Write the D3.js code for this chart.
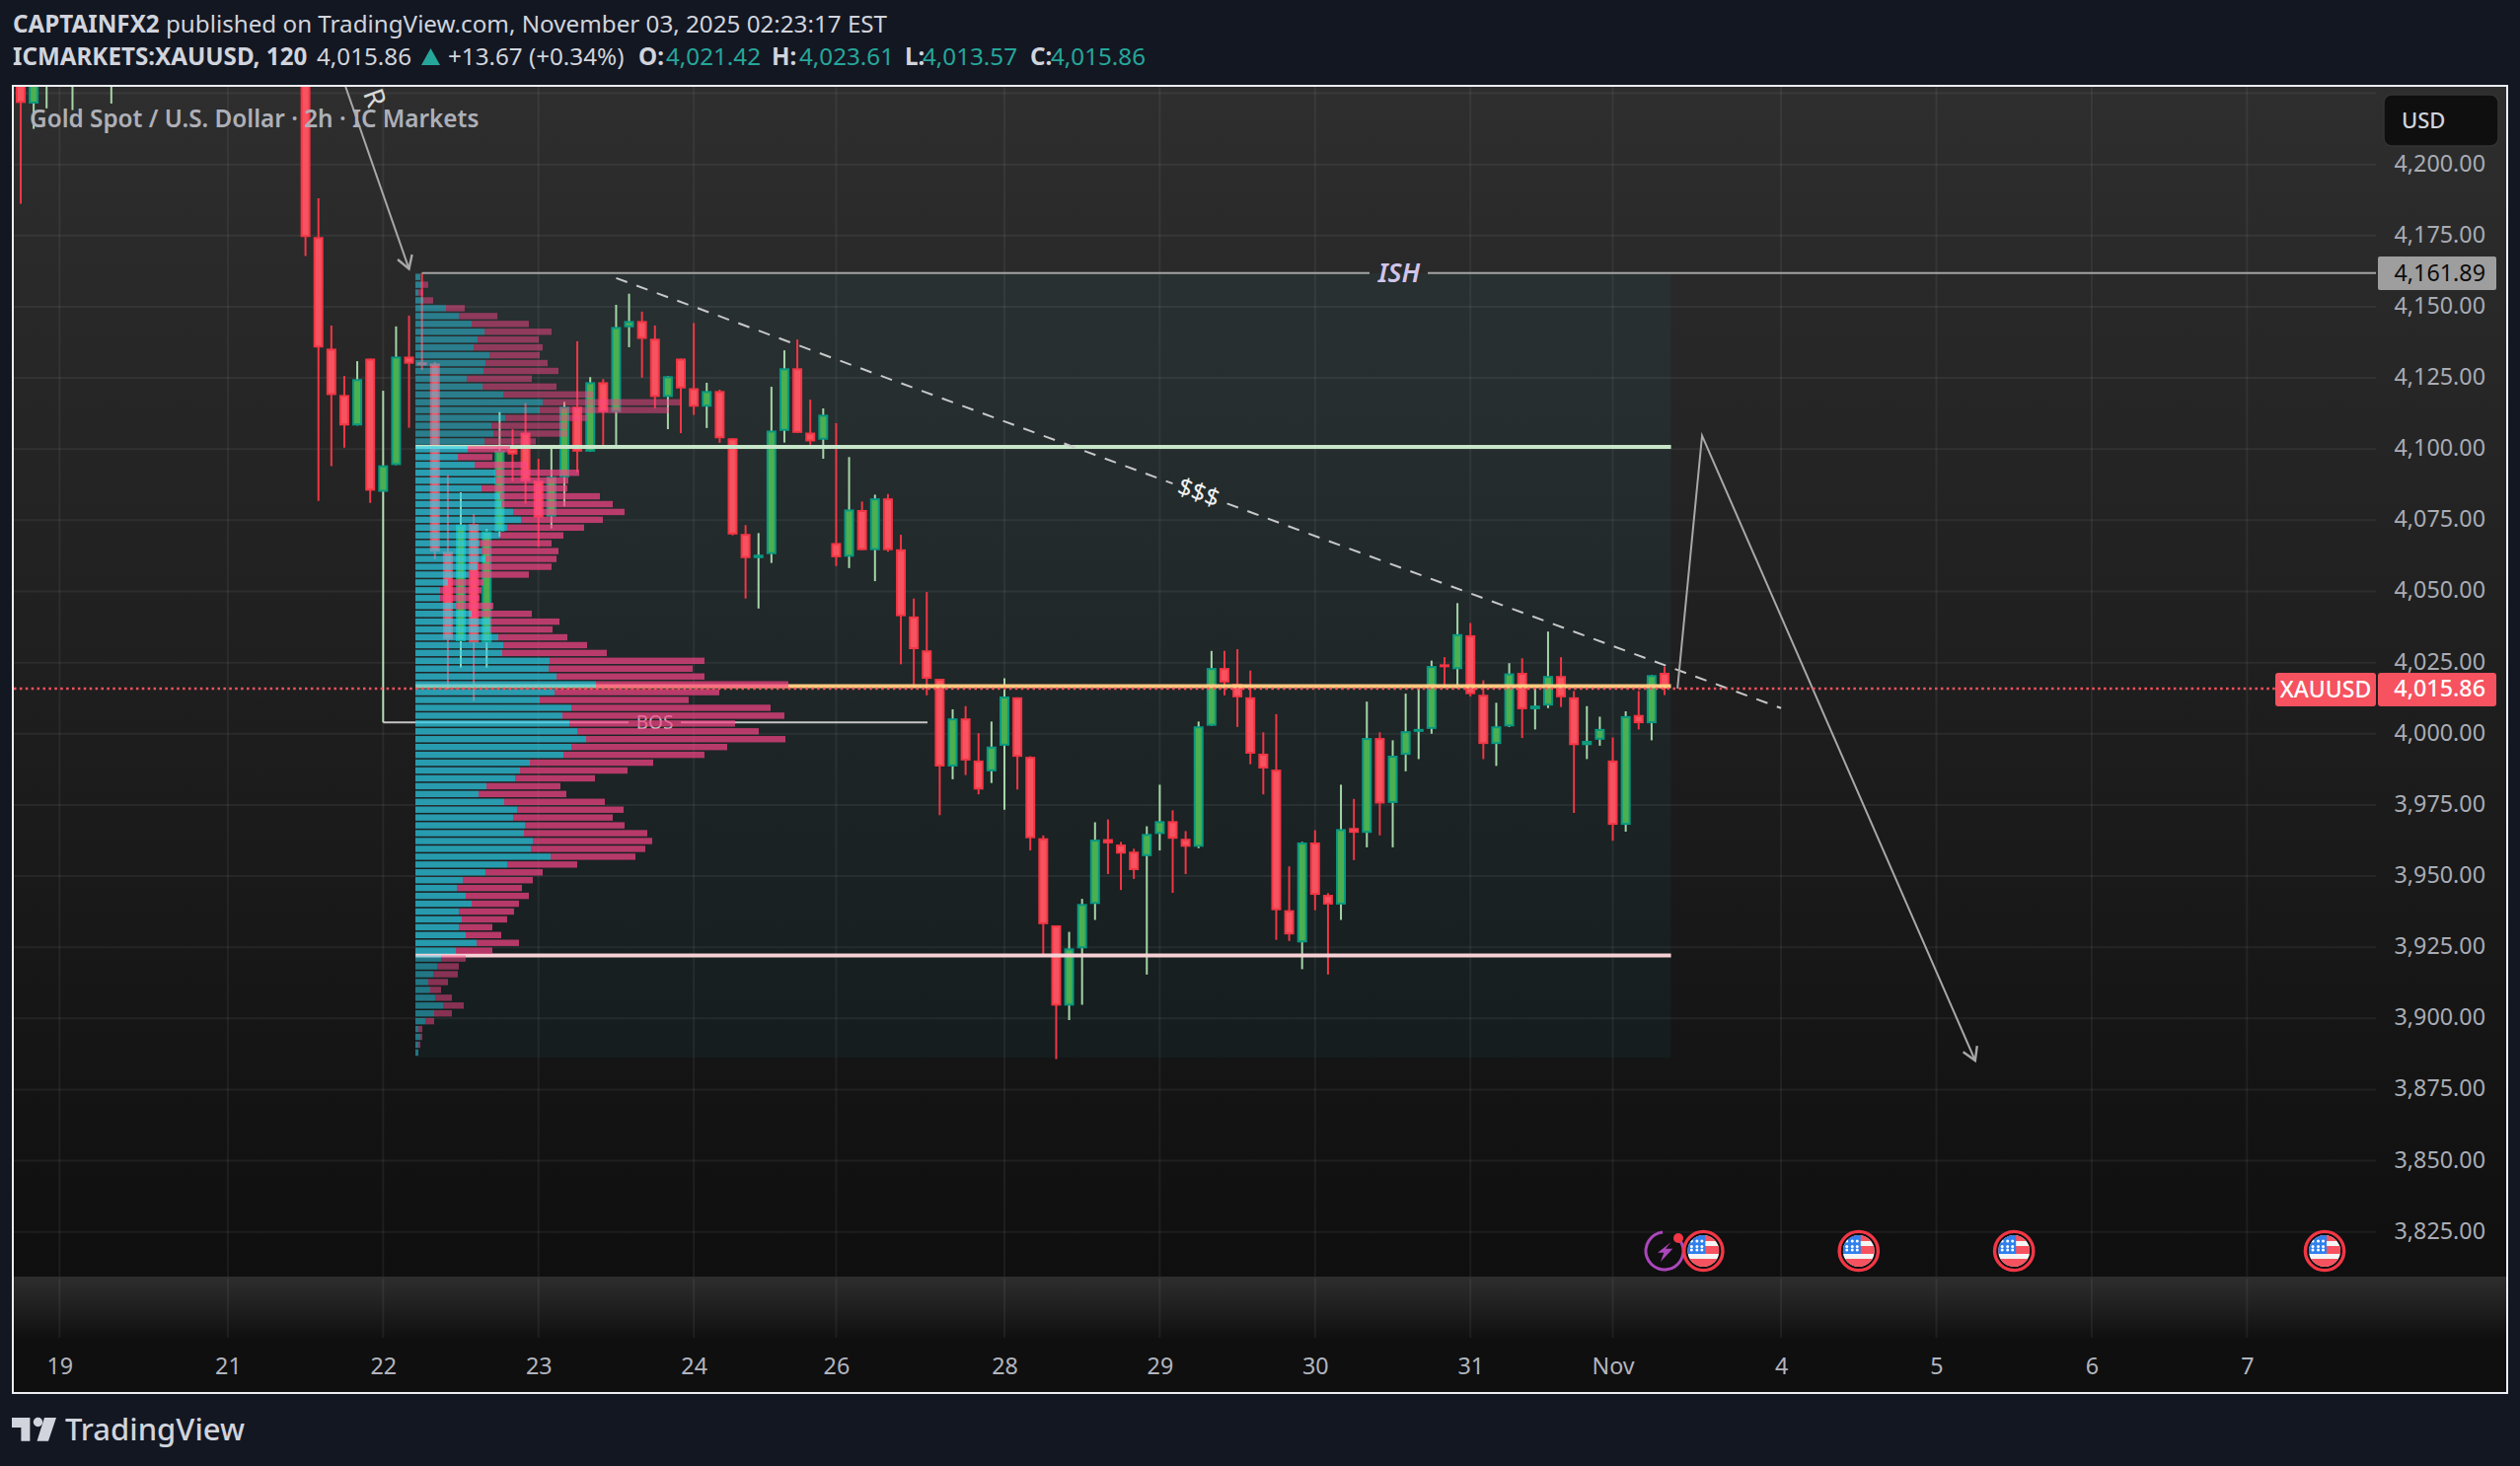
<!DOCTYPE html>
<html>
<head>
<meta charset="utf-8">
<script src="https://cdn.jsdelivr.net/npm/d3@7/dist/d3.min.js"></script>
<style>
  html, body { margin: 0; padding: 0; background: #131722; overflow: hidden; }
  text { font-family: "Noto Sans", sans-serif; }
</style>
</head>
<body>
<svg id="chart" width="2554" height="1486"></svg>
<script>
// bar slots: the bars between slot 8 and 21 sit above the visible range
const slots = [0, 1, 2, 4, 7].concat(d3.range(22, 128));

const opens = [4240, 4221.4, 4235, 4235, 4235,
  4260, 4174.5, 4135.3, 4119.0, 4108.3, 4131.8, 4085.0, 4094.4, 4132.5, 4130.5,
  4130.1, 4064.0, 4032.5, 4073.7, 4032.1, 4071.0, 4100.1, 4105.8, 4088.9, 4076.3,
  4090.1, 4114.9, 4099.1, 4123.5, 4113.0, 4142.8, 4145.0, 4138.8, 4118.3, 4131.8,
  4121.4, 4114.9, 4120.4, 4103.8, 4070.2, 4061.7, 4063.1, 4106.4, 4128.4, 4105.8,
  4103.3, 4067.0, 4062.2,
  4078.6, 4064.5, 4082.7, 4064.8, 4041.2, 4029.3, 4019.3, 3988.5, 4005.4, 3990.6,
  3986.8, 3995.8, 4012.8, 3991.9, 3963.3, 3932.7, 3904.5, 3924.6, 3940.2, 3963.0,
  3961.1, 3958.6, 3957.0, 3964.8, 3969.3, 3963.1, 3960.3, 4002.8, 4023.1, 4017.6,
  4012.8, 3993.0, 3987.4, 3938.0, 3926.7, 3961.8, 3943.4, 3940.0, 3966.9, 3965.2,
  3998.5, 3975.7, 3992.6, 4000.9, 4001.7, 4024.4, 4022.7, 4034.6, 4013.7, 3996.4,
  4002.6, 4021.4, 4008.6, 4009.9, 4020.3, 4012.8, 3996.0, 3997.9, 3990.6, 3968.0,
  4006.6, 4003.7, 4021.42];

const highs = [4240, 4240, 4245, 4245, 4245,
  4270, 4188.1, 4143.4, 4125.7, 4130.9, 4131.8, 4120.5, 4143.1, 4146.9, 4161.89,
  4130.6, 4090.8, 4084.8, 4077.2, 4072.0, 4113.0, 4107.0, 4116.2, 4096.6, 4100.6,
  4116.6, 4137.9, 4125.3, 4124.6, 4150.7, 4154.6, 4148.3, 4143.4, 4125.6, 4131.8,
  4144.3, 4123.3, 4120.9, 4103.9, 4073.3, 4070.5, 4121.9, 4134.7, 4138.5, 4117.4,
  4114.3, 4109.1, 4097.2,
  4081.6, 4084.0, 4084.2, 4069.9, 4047.5, 4049.8, 4019.3, 4008.6, 4009.7, 4000.2,
  4004.3, 4019.5, 4012.8, 3992.1, 3964.3, 3932.7, 3930.4, 3942.0, 3968.9, 3969.9,
  3962.0, 3959.6, 3967.5, 3982.1, 3973.1, 3965.8, 4004.3, 4029.1, 4029.1, 4029.7,
  4022.2, 4000.5, 4006.9, 3953.4, 3962.0, 3966.1, 3944.0, 3982.1, 3977.1, 4011.3,
  4000.5, 3997.7, 4014.1, 4016.0, 4025.7, 4026.9, 4045.9, 4038.9, 4018.8, 4010.9,
  4024.8, 4026.5, 4016.0, 4035.9, 4026.9, 4015.0, 4009.7, 4006.0, 3998.7, 4007.9,
  4015.0, 4020.6, 4023.61];

const lows = [4186.2, 4212.5, 4219.7, 4219.1, 4221.4,
  4167.8, 4081.8, 4094.0, 4100.5, 4108.3, 4081.1, 4085.0, 4094.4, 4107.5, 4127.8,
  4061.4, 4015.7, 4023.2, 4011.5, 4023.2, 4069.2, 4088.7, 4080.8, 4065.6, 4072.1,
  4079.9, 4091.8, 4099.1, 4101.2, 4101.2, 4135.8, 4125.1, 4114.4, 4107.0, 4105.6,
  4112.0, 4107.4, 4102.2, 4069.7, 4047.5, 4044.0, 4060.0, 4102.3, 4105.7, 4101.5,
  4096.6, 4058.9, 4058.2,
  4064.5, 4053.6, 4063.9, 4024.4, 4016.9, 4013.5, 3971.4, 3984.0, 3985.5, 3978.7,
  3982.7, 3973.3, 3980.4, 3959.0, 3922.5, 3885.7, 3899.4, 3904.8, 3934.6, 3950.7,
  3945.1, 3949.0, 3915.4, 3959.0, 3944.1, 3950.7, 3959.8, 4002.8, 4013.5, 4002.4,
  3989.3, 3978.7, 3927.6, 3927.2, 3917.3, 3938.0, 3915.4, 3934.6, 3955.6, 3960.1,
  3964.3, 3960.1, 3986.8, 3991.1, 4000.0, 4016.9, 4016.0, 4013.1, 3991.1, 3988.7,
  4002.4, 3998.5, 4001.5, 4009.0, 4009.4, 3972.2, 3991.1, 3995.8, 3962.4, 3965.6,
  4001.5, 3997.7, 4013.57];

const closes = [4221.6, 4240, 4245, 4245, 4245,
  4174.5, 4135.7, 4119.0, 4108.3, 4124.6, 4085.4, 4094.3, 4132.5, 4130.0, 4130.0,
  4064.0, 4033.1, 4073.5, 4032.1, 4071.2, 4099.5, 4098.1, 4088.7, 4076.0, 4090.3,
  4114.9, 4099.1, 4123.5, 4113.0, 4142.9, 4145.0, 4138.7, 4118.3, 4125.6, 4121.3,
  4114.9, 4120.4, 4103.8, 4070.0, 4061.7, 4062.9, 4106.5, 4128.4, 4105.7, 4102.7,
  4112.1, 4062.0, 4078.8,
  4064.5, 4082.7, 4064.5, 4041.3, 4029.7, 4019.3, 3988.5, 4005.4, 3990.6, 3980.4,
  3995.5, 4013.1, 3991.9, 3963.3, 3933.1, 3904.5, 3924.6, 3940.2, 3962.8, 3961.5,
  3957.9, 3952.1, 3964.8, 3969.3, 3963.1, 3960.3, 4002.6, 4023.1, 4018.0, 4012.8,
  3993.0, 3987.8, 3938.0, 3929.5, 3961.8, 3943.4, 3940.0, 3966.5, 3965.2, 3998.5,
  3975.5, 3992.3, 4000.9, 4001.7, 4023.8, 4023.8, 4035.0, 4013.9, 3996.4, 4002.6,
  4021.2, 4008.6, 4009.9, 4020.3, 4012.8, 3996.0, 3997.5, 4001.7, 3968.0, 4006.2,
  4003.7, 4020.6, 4015.86];

// volume profile rows, top row first (buy part and whole row)
const rowUp = [5, 6, 3, 8, 31, 44, 57, 70, 63, 59, 75, 71, 69, 52, 68, 89, 129, 126, 91, 77,
  79, 70, 53, 43, 60, 81, 81, 67, 86, 87, 99, 107, 93, 86, 65, 67, 71, 63, 54, 33,
  25, 25, 41, 57, 76, 76, 84, 89, 88, 136, 135, 143, 183, 141, 126, 158, 149, 156, 164, 173,
  158, 150, 116, 106, 101, 72, 64, 90, 103, 99, 111, 110, 119, 117, 137, 93, 71, 48, 42, 51,
  57, 44, 47, 44, 51, 62, 41, 26, 22, 18, 13, 15, 20, 28, 19, 10, 3, 5, 3, 3];
const rowTotal = [5, 13, 8, 18, 50, 83, 115, 138, 125, 129, 126, 134, 145, 118, 143, 180, 268, 257, 174, 154,
  154, 122, 96, 78, 113, 166, 155, 154, 187, 200, 212, 190, 171, 150, 138, 145, 143, 138, 115, 69,
  67, 65, 79, 118, 146, 139, 154, 174, 194, 293, 281, 293, 378, 308, 277, 360, 374, 324, 348, 375,
  316, 293, 241, 215, 182, 147, 153, 192, 211, 200, 212, 235, 240, 233, 223, 164, 129, 119, 108, 115,
  105, 100, 93, 78, 87, 105, 78, 51, 44, 43, 33, 26, 37, 49, 37, 19, 7, 7, 5, 3];

const priceTicks = d3.range(3825, 4226, 25);
const timeSlots = [3, 16, 28, 40, 52, 63, 76, 88, 100, 112, 123, 136, 148, 160, 172];
const timeLabels = ["19", "21", "22", "23", "24", "26", "28", "29", "30", "31", "Nov", "4", "5", "6", "7"];
const eventSlots = [130, 142, 154, 178];

const lastPrice = 4015.86, ishPrice = 4161.89;
const vahPrice = 4100.75, pocPrice = 4016.7, valPrice = 3922.1;
const boxLow = 3886.2;

const trendA = [[46, 4160.1], [89, 4087.9]];
const trendB = [[93.2, 4080.9], [136, 4009.0]];
const forecast = [[128, 4015.9], [129.9, 4104.7], [151, 3885.2]];
const topArrow = [[25.1, 4227.3], [30, 4163.3]];

const svg = d3.select("#chart");
const paneLeft = 14, paneRight = 2408, paneTop = 88, paneBottom = 1294, stripBottom = 1358, frameBottom = 1412, frameRight = 2540;

const x = d3.scaleLinear().domain([0, 127]).range([21, 1687]);
const y = d3.scaleLinear().domain([4200, 3825]).range([166.7, 1248.7]);
const vol = d3.scaleLinear().domain([0, 375]).range([421, 796]);
const rowPrice = d3.scaleLinear().domain([0, 99]).range([4160.5, 3888]);

const defs = svg.append("defs");
const fade = defs.append("linearGradient").attr("id", "fade").attr("x1", 0).attr("x2", 0).attr("y1", 0).attr("y2", 1);
fade.append("stop").attr("offset", 0).attr("stop-color", "#2e2e2e");
fade.append("stop").attr("offset", 1).attr("stop-color", "#0f0f0f");
defs.append("clipPath").attr("id", "pane").append("rect")
    .attr("x", paneLeft).attr("y", paneTop)
    .attr("width", paneRight - paneLeft).attr("height", paneBottom - paneTop);
defs.append("clipPath").attr("id", "flagClip").append("circle").attr("r", 16);

// panel backgrounds
svg.append("rect").attr("x", 14).attr("y", paneTop).attr("width", frameRight - 14).attr("height", paneBottom - paneTop).attr("fill", "url(#fade)");
svg.append("rect").attr("x", 14).attr("y", paneBottom).attr("width", frameRight - 14).attr("height", stripBottom - paneBottom).attr("fill", "url(#fade)");
svg.append("rect").attr("x", 14).attr("y", stripBottom).attr("width", frameRight - 14).attr("height", frameBottom - stripBottom).attr("fill", "#0f0f0f");

// grid
const grid = svg.append("g").attr("stroke", "rgba(255,255,255,0.06)").attr("stroke-width", 2);
grid.selectAll("line.h").data(priceTicks).enter().append("line")
    .attr("x1", paneLeft).attr("x2", paneRight)
    .attr("y1", d => y(d)).attr("y2", d => y(d));
grid.selectAll("line.v").data(timeSlots).enter().append("line")
    .attr("x1", d => x(d)).attr("x2", d => x(d))
    .attr("y1", paneTop).attr("y2", paneBottom);
grid.selectAll("line.s").data(timeSlots).enter().append("line")
    .attr("x1", d => x(d)).attr("x2", d => x(d))
    .attr("y1", paneBottom + 2).attr("y2", stripBottom - 2);

const pane = svg.append("g").attr("clip-path", "url(#pane)");

// profile box
pane.append("rect")
    .attr("x", x(30.5)).attr("y", y(ishPrice))
    .attr("width", x(127.5) - x(30.5)).attr("height", y(boxLow) - y(ishPrice))
    .attr("fill", "#26c6da").attr("fill-opacity", 0.05);

// candles
const candles = slots.map((s, i) => ({slot: s, o: opens[i], h: highs[i], l: lows[i], c: closes[i], up: closes[i] >= opens[i]}));

pane.selectAll("line.wick").data(candles).enter().append("line")
    .attr("x1", d => x(d.slot)).attr("x2", d => x(d.slot))
    .attr("y1", d => y(d.h)).attr("y2", d => y(d.l))
    .attr("stroke", d => d.up ? "#a5d6a7" : "#f23645")
    .attr("stroke-width", 2);

pane.selectAll("rect.body").data(candles).enter().append("rect")
    .attr("x", d => x(d.slot) - 4)
    .attr("width", 8)
    .attr("y", d => y(Math.max(d.o, d.c)) + 1)
    .attr("height", d => Math.max(y(Math.min(d.o, d.c)) - y(Math.max(d.o, d.c)) - 2, 1))
    .attr("fill", d => d.up ? "#4caf50" : "#f7525f")
    .attr("stroke", d => d.up ? "#089981" : "#f23645")
    .attr("stroke-width", 2);

// value area and POC lines go under the profile rows
[[vahPrice, "#c8e6c9"], [pocPrice, "#ffcc80"], [valPrice, "#f6d0d4"]].forEach(function(l) {
  pane.append("line")
      .attr("x1", x(30.5)).attr("x2", x(127.5))
      .attr("y1", y(l[0])).attr("y2", y(l[0]))
      .attr("stroke", l[1]).attr("stroke-width", 4);
});

// BOS bracket
pane.append("line")
    .attr("x1", x(28)).attr("x2", x(28))
    .attr("y1", y(4085)).attr("y2", y(4004))
    .attr("stroke", "#b5dfb8").attr("stroke-width", 2);
pane.append("line")
    .attr("x1", x(28)).attr("x2", 637)
    .attr("y1", y(4004)).attr("y2", y(4004))
    .attr("stroke", "#c4c4c4").attr("stroke-width", 2);
pane.append("line")
    .attr("x1", 690).attr("x2", 940)
    .attr("y1", y(4004)).attr("y2", y(4004))
    .attr("stroke", "#c4c4c4").attr("stroke-width", 2);
pane.append("text").text("BOS")
    .attr("x", 663.5).attr("y", y(4004)).attr("dy", ".35em")
    .attr("text-anchor", "middle").attr("font-size", 19).attr("fill", "#c4c4c4");

// volume profile
const rows = rowUp.map((u, i) => ({i: i, up: u, total: rowTotal[i], dim: i < 22 || i > 86}));
const profile = pane.append("g");
profile.selectAll("rect.up").data(rows).enter().append("rect")
    .attr("x", vol(0)).attr("width", d => vol(d.up) - vol(0))
    .attr("y", d => y(rowPrice(d.i)) - 3.2).attr("height", 6.4)
    .attr("fill", "#2ecee9").attr("fill-opacity", d => d.dim ? 0.5 : 0.7);
profile.selectAll("rect.down").data(rows).enter().append("rect")
    .attr("x", d => vol(d.up)).attr("width", d => vol(d.total) - vol(d.up))
    .attr("y", d => y(rowPrice(d.i)) - 3.2).attr("height", 6.4)
    .attr("fill", "#fa4588").attr("fill-opacity", d => d.dim ? 0.5 : 0.7);

// drawings
const line = d3.line().x(d => x(d[0])).y(d => y(d[1]));

pane.append("line")
    .attr("x1", x(31)).attr("x2", 1388)
    .attr("y1", y(ishPrice)).attr("y2", y(ishPrice))
    .attr("stroke", "#a3a3a3").attr("stroke-width", 2);
pane.append("line")
    .attr("x1", 1447).attr("x2", paneRight)
    .attr("y1", y(ishPrice)).attr("y2", y(ishPrice))
    .attr("stroke", "#a3a3a3").attr("stroke-width", 2);
pane.append("text").text("ISH")
    .attr("x", 1418).attr("y", y(ishPrice)).attr("dy", ".36em")
    .attr("text-anchor", "middle").attr("font-size", 27).attr("font-style", "italic").attr("font-weight", 600)
    .attr("fill", "#d1c4e9");

[trendA, trendB].forEach(function(t) {
  pane.append("path").attr("d", line(t))
      .attr("fill", "none").attr("stroke", "#c8c8c8").attr("stroke-width", 2).attr("stroke-dasharray", "12 10");
});
pane.append("text").text("$$$")
    .attr("text-anchor", "middle").attr("font-size", 25).attr("fill", "#f2f2f2")
    .attr("transform", "translate(1215,499) rotate(20)").attr("dy", ".35em");

pane.append("path").attr("d", line(forecast))
    .attr("fill", "none").attr("stroke", "#a8a8a8").attr("stroke-width", 2);
pane.append("path").attr("d", line(topArrow))
    .attr("fill", "none").attr("stroke", "#a8a8a8").attr("stroke-width", 2);

function arrowHead(p, from) {
  const ex = x(p[0]), ey = y(p[1]);
  const a = Math.atan2(ey - y(from[1]), ex - x(from[0]));
  const pts = [a + 2.6, a - 2.6].map(t => [ex + 15 * Math.cos(t), ey + 15 * Math.sin(t)]);
  pane.append("path")
      .attr("d", d3.line()([pts[0], [ex, ey], pts[1]]))
      .attr("fill", "none").attr("stroke", "#a8a8a8").attr("stroke-width", 2.4);
}
arrowHead(forecast[2], forecast[1]);
arrowHead(topArrow[1], topArrow[0]);

pane.append("text").text("R")
    .attr("text-anchor", "middle").attr("dy", ".35em").attr("font-size", 28).attr("fill", "#d8d8d8")
    .attr("transform", "translate(380,99) rotate(70)");

// last price line
pane.append("line")
    .attr("x1", paneLeft).attr("x2", 2306)
    .attr("y1", y(lastPrice)).attr("y2", y(lastPrice))
    .attr("stroke", "#f7525f").attr("stroke-width", 2.4).attr("stroke-dasharray", "2.5 3.4");

// event marks
const bolt = svg.append("g").attr("transform", "translate(" + x(127) + ",1268)");
bolt.append("path")
    .attr("d", d3.arc().innerRadius(17.5).outerRadius(20.5).startAngle(0.75).endAngle(Math.PI * 2 - 0.1)())
    .attr("fill", "#ab47bc");
bolt.append("path").attr("d", "M6.7-9L-7 1.7H-0.7L-4 11L8.3-2.3H1Z").attr("fill", "#ab47bc");
bolt.append("circle").attr("cx", 14).attr("cy", -13).attr("r", 5).attr("fill", "#f23645");

const flags = svg.selectAll("g.flag").data(eventSlots).enter().append("g")
    .attr("class", "flag")
    .attr("transform", d => "translate(" + x(d) + ",1268)");
flags.append("circle").attr("r", 19.6).attr("fill", "#0f0f0f").attr("stroke", "#f23645").attr("stroke-width", 3.4);
const flagInner = flags.append("g").attr("clip-path", "url(#flagClip)");
flagInner.append("rect").attr("x", -16).attr("y", -16).attr("width", 32).attr("height", 32).attr("fill", "#f5f5f5");
[[-16, 6], [-5, 8], [8, 9]].forEach(function(s) {
  flagInner.append("rect").attr("x", -16).attr("y", s[0]).attr("width", 32).attr("height", s[1]).attr("fill", "#f7525f");
});
flagInner.append("rect").attr("x", -16).attr("y", -16).attr("width", 18).attr("height", 19).attr("fill", "#2f80ed");
[-10, -4.5, -1].forEach(function(dy) {
  [-12, -6.5, -1.5].forEach(function(dx) {
    flagInner.append("circle").attr("cx", dx).attr("cy", dy).attr("r", 1.5).attr("fill", "#ffffff");
  });
});

// title
svg.append("text").text("Gold Spot / U.S. Dollar \u00b7 2h \u00b7 IC Markets")
    .attr("x", 30).attr("y", 129).attr("font-size", 24.3).attr("font-weight", 600).attr("fill", "#adb0b8");

// price axis
const priceAxis = d3.axisRight(y).tickValues(priceTicks.filter(d => d <= 4200)).tickSize(0).tickFormat(d3.format(",.2f"));
const priceG = svg.append("g").attr("transform", "translate(2519,-1)").call(priceAxis);
priceG.select(".domain").remove();
priceG.selectAll("text").attr("x", 0).attr("text-anchor", "end")
    .attr("font-size", 23.3).attr("font-family", "Noto Sans").attr("fill", "#a9acb5");

// time axis
const timeAxis = d3.axisBottom(x).tickValues(timeSlots).tickSize(0)
    .tickFormat(d => timeLabels[timeSlots.indexOf(d)]);
const timeG = svg.append("g").attr("transform", "translate(0,1385)").call(timeAxis);
timeG.select(".domain").remove();
timeG.selectAll("text").attr("y", 0).attr("dy", ".36em")
    .attr("font-size", 23.3).attr("font-family", "Noto Sans").attr("fill", "#b2b5be");

// USD button
svg.append("rect").attr("x", 2416).attr("y", 96).attr("width", 116).attr("height", 52).attr("rx", 8)
    .attr("fill", "#0f0f0f").attr("stroke", "#333333").attr("stroke-width", 1.5);
svg.append("text").text("USD").attr("x", 2434).attr("y", 122).attr("dy", ".36em")
    .attr("font-size", 22).attr("font-weight", 500).attr("fill", "#d1d4dc");

// price labels
svg.append("rect").attr("x", 2410).attr("y", 260).attr("width", 120).attr("height", 34).attr("rx", 2).attr("fill", "#9e9e9e");
svg.append("text").text("4,161.89").attr("x", 2519).attr("y", y(ishPrice)).attr("dy", ".36em")
    .attr("text-anchor", "end").attr("font-size", 23.3).attr("fill", "#0c0c0c");
svg.append("rect").attr("x", 2306).attr("y", 682).attr("width", 102).attr("height", 34).attr("rx", 3).attr("fill", "#f7525f");
svg.append("rect").attr("x", 2410).attr("y", 682).attr("width", 120).attr("height", 34).attr("rx", 3).attr("fill", "#f7525f");
svg.append("text").text("XAUUSD").attr("x", 2357).attr("y", 699).attr("dy", ".36em")
    .attr("text-anchor", "middle").attr("font-size", 23).attr("font-weight", 500).attr("fill", "#ffffff");
svg.append("text").text("4,015.86").attr("x", 2519).attr("y", 698).attr("dy", ".36em")
    .attr("text-anchor", "end").attr("font-size", 23.3).attr("font-weight", 500).attr("fill", "#ffffff");

// frame
svg.append("rect").attr("x", 13).attr("y", 87).attr("width", 2528).attr("height", 1325)
    .attr("fill", "none").attr("stroke", "#eceef4").attr("stroke-width", 2);

// header
const headerColor = "#d1d4dc", upColor = "#26a69a";
const head1 = svg.append("text").attr("x", 13).attr("y", 33).attr("font-size", 24.2).attr("fill", headerColor);
head1.append("tspan").attr("font-weight", 700).text("CAPTAINFX2");
head1.append("tspan").text(" published on TradingView.com, November 03, 2025 02:23:17 EST");

const headParts = [
  ["ICMARKETS:XAUUSD, 120", 13, 700, headerColor],
  ["4,015.86", 321, 400, headerColor],
  ["+13.67 (+0.34%)", 454, 400, headerColor],
  ["O:", 647, 700, headerColor],
  ["4,021.42", 675, 400, upColor],
  ["H:", 782, 700, headerColor],
  ["4,023.61", 810, 400, upColor],
  ["L:", 917, 700, headerColor],
  ["4,013.57", 935, 400, upColor],
  ["C:", 1044, 700, headerColor],
  ["4,015.86", 1065, 400, upColor]
];
svg.selectAll("text.head").data(headParts).enter().append("text")
    .attr("class", "head")
    .text(d => d[0])
    .attr("x", d => d[1]).attr("y", 66)
    .attr("font-size", 24.2).attr("font-weight", d => d[2]).attr("fill", d => d[3]);
svg.append("path").attr("d", "M427 66L436.5 49L446 66Z").attr("fill", upColor);

// logo
svg.append("path").attr("d", "M12 1437H30.4V1460.7H21.4V1447H12Z").attr("fill", "#d1d4dc");
svg.append("circle").attr("cx", 38.5).attr("cy", 1441.5).attr("r", 4.7).attr("fill", "#d1d4dc");
svg.append("path").attr("d", "M45 1437H57L49 1460.7H37.5Z").attr("fill", "#d1d4dc");
svg.append("text").text("TradingView").attr("x", 66).attr("y", 1460)
    .attr("font-size", 31).attr("font-weight", 500).attr("font-family", "Inter").attr("fill", "#d1d4dc");
</script>
</body>
</html>
